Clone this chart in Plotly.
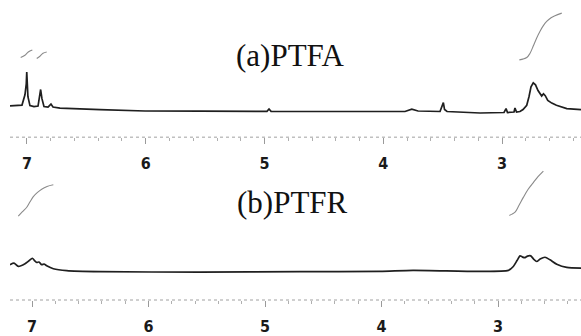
import plotly.graph_objects as go
from plotly.subplots import make_subplots

# (a) PTFA 1H NMR trace: chemical shift (ppm) and intensity (a.u.)
ptfa_ppm = [7.143, 7.084, 7.042, 7.017, 7.006, 7.002, 6.997, 6.992, 6.975, 6.941,
            6.907, 6.895, 6.885, 6.874, 6.857, 6.823, 6.798, 6.781, 6.722, 6.385,
            6.006, 5.543, 4.979, 4.962, 4.945, 4.448, 4.027, 3.817, 3.760, 3.707,
            3.522, 3.501, 3.494, 3.484, 3.463, 3.185, 2.983, 2.966, 2.954, 2.899,
            2.891, 2.878, 2.849, 2.823, 2.792, 2.773, 2.756, 2.737, 2.718, 2.697,
            2.666, 2.651, 2.636, 2.615, 2.581, 2.542, 2.455, 2.335]
ptfa_int = [31.7, 32.0, 32.5, 43.0, 54.0, 66.0, 49.0, 41.0, 32.0, 31.0,
            31.5, 41.0, 48.3, 39.0, 31.0, 30.5, 33.5, 30.5, 29.5, 28.0,
            26.5, 26.3, 26.2, 28.5, 26.2, 26.0, 25.7, 26.0, 28.3, 26.5,
            26.0, 32.0, 35.0, 28.0, 26.0, 24.5, 25.0, 29.0, 25.0, 25.5,
            29.5, 25.5, 26.0, 28.0, 32.3, 41.0, 51.0, 55.0, 53.0, 47.3,
            41.7, 44.0, 42.0, 37.3, 34.5, 32.3, 29.0, 28.0]

# (a) integral curves
ptfa_int1_ppm = [7.053, 7.017, 6.989, 6.955]
ptfa_int1_val = [80.7, 83.0, 86.3, 88.3]
ptfa_int2_ppm = [6.918, 6.891, 6.865, 6.834]
ptfa_int2_val = [79.7, 82.0, 85.0, 86.3]
ptfa_int3_ppm = [2.854, 2.792, 2.764, 2.737, 2.708, 2.680, 2.652, 2.624, 2.587, 2.554, 2.497]
ptfa_int3_val = [78.3, 80.7, 85.0, 92.3, 100.5, 107.3, 113.0, 117.3, 121.0, 123.0, 125.7]

# (b) PTFR 1H NMR trace
ptfr_ppm = [7.189, 7.155, 7.118, 7.060, 7.028, 6.997, 6.979, 6.960, 6.940, 6.917,
            6.897, 6.874, 6.817, 6.702, 6.416, 5.558, 4.700, 4.013, 3.730, 3.155,
            2.912, 2.869, 2.837, 2.811, 2.790, 2.768, 2.747, 2.719, 2.695, 2.668,
            2.639, 2.597, 2.554, 2.496, 2.410, 2.288]
ptfr_int = [35.7, 37.3, 34.0, 36.7, 39.5, 42.3, 40.0, 38.0, 38.5, 35.7,
            36.5, 34.7, 31.7, 29.7, 28.7, 28.3, 28.7, 29.0, 30.0, 29.0,
            30.0, 34.0, 40.0, 44.7, 43.5, 43.0, 44.5, 44.7, 41.5, 39.0,
            41.5, 43.3, 40.7, 36.3, 33.0, 32.3]

# (b) integral curves
ptfr_int1_ppm = [7.118, 7.082, 7.045, 7.017, 6.989, 6.953, 6.917, 6.871, 6.817]
ptfr_int1_val = [85.0, 89.5, 94.0, 99.5, 104.7, 109.0, 112.3, 115.0, 116.7]
ptfr_int2_ppm = [2.903, 2.880, 2.854, 2.820, 2.783, 2.743, 2.697, 2.657, 2.611]
ptfr_int2_val = [85.7, 87.0, 89.0, 96.0, 104.0, 112.0, 119.0, 125.0, 130.7]

tick_vals = [7, 6, 5, 4, 3]
tick_text = ["7", "6", "5", "4", "3"]
titles = ["(a)PTFA", "(b)PTFR"]

SPEC = dict(color="#1f1f1f", width=1.7)
INTEG = dict(color="#8a8a8a", width=1.1)

fig = make_subplots(rows=2, cols=1, vertical_spacing=0.05)

fig.add_trace(go.Scatter(x=ptfa_ppm, y=ptfa_int, mode="lines", line=SPEC), row=1, col=1)
for px, py in [(ptfa_int1_ppm, ptfa_int1_val), (ptfa_int2_ppm, ptfa_int2_val),
               (ptfa_int3_ppm, ptfa_int3_val)]:
    fig.add_trace(go.Scatter(x=px, y=py, mode="lines", line=dict(INTEG, shape="spline")),
                  row=1, col=1)

fig.add_trace(go.Scatter(x=ptfr_ppm, y=ptfr_int, mode="lines",
                         line=dict(SPEC, shape="spline", smoothing=0.6)),
              row=2, col=1)
for px, py in [(ptfr_int1_ppm, ptfr_int1_val), (ptfr_int2_ppm, ptfr_int2_val)]:
    fig.add_trace(go.Scatter(x=px, y=py, mode="lines", line=dict(INTEG, shape="spline")),
                  row=2, col=1)

xcommon = dict(
    tickmode="array", tickvals=tick_vals, ticktext=tick_text,
    ticks="outside", ticklen=6, tickwidth=1, tickcolor="#9a9a9a",
    minor=dict(dtick=0.2, ticks="outside", ticklen=3, tickcolor="#b0b0b0", tickwidth=1),
    showgrid=False, zeroline=False, showline=False,
    tickfont=dict(family="DejaVu Sans Condensed, Liberation Sans Narrow, Liberation Sans",
                  size=16, color="#1a1a1a", weight="bold"),
    ticklabelstandoff=6,
)
fig.update_xaxes(xcommon)
fig.update_xaxes(range=[7.143, 2.335], row=1, col=1)
fig.update_xaxes(range=[7.189, 2.288], row=2, col=1)

fig.update_yaxes(visible=False, showgrid=False, zeroline=False)
fig.update_yaxes(range=[0, 139], row=1, col=1)
fig.update_yaxes(range=[0, 144], row=2, col=1)

fig.update_layout(
    width=581, height=336,
    margin=dict(l=10, r=0, t=0, b=32),
    paper_bgcolor="white", plot_bgcolor="white",
    showlegend=False,
    xaxis=dict(domain=[0, 1]), xaxis2=dict(domain=[0, 1]),
    yaxis=dict(domain=[0.5428, 1.0]),
    yaxis2=dict(domain=[0.0, 0.4737]),
)

# dotted baseline rule for each chemical-shift axis
for yref in ["y domain", "y2 domain"]:
    fig.add_shape(type="line", xref="paper", yref=yref, x0=0, x1=1, y0=0, y1=0,
                  line=dict(color="#a0a0a0", width=1, dash="dot"))

TITLE_FONT = dict(family="Liberation Serif, Times New Roman, serif", size=31, color="#111111")
fig.add_annotation(text=titles[0], xref="paper", yref="paper", x=0.492, y=0.816,
                   xanchor="center", yanchor="middle", showarrow=False, font=TITLE_FONT)
fig.add_annotation(text=titles[1], xref="paper", yref="paper", x=0.495, y=0.326,
                   xanchor="center", yanchor="middle", showarrow=False, font=TITLE_FONT)

fig.write_html("out.html")
